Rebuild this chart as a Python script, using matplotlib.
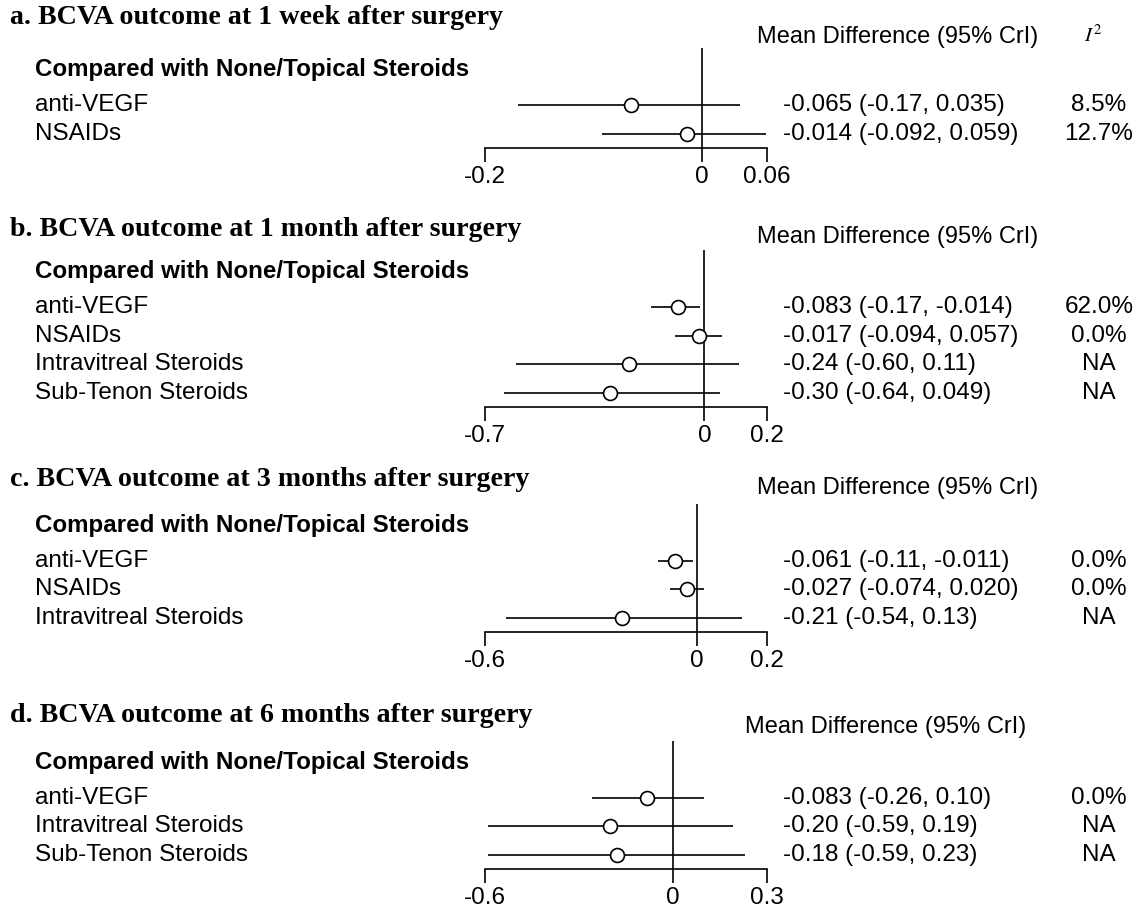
import matplotlib
matplotlib.use("Agg")
import matplotlib.pyplot as plt
import matplotlib.transforms as mtransforms

W, H, DPI = 1143, 909, 100

# ---------------- data ----------------
titles = [
    "a. BCVA outcome at 1 week after surgery",
    "b. BCVA outcome at 1 month after surgery",
    "c. BCVA outcome at 3 months after surgery",
    "d. BCVA outcome at 6 months after surgery",
]
group_label = "Compared with None/Topical Steroids"
header_md = "Mean Difference (95% CrI)"
header_i2 = r"$I^2$"

a_labels = ["anti-VEGF", "NSAIDs"]
a_mean = [-0.065, -0.014]
a_low = [-0.17, -0.092]
a_high = [0.035, 0.059]
a_est = ["-0.065 (-0.17, 0.035)", "-0.014 (-0.092, 0.059)"]
a_i2 = ["8.5%", "12.7%"]
a_ticks = [-0.2, 0, 0.06]
a_ticklabels = ["-0.2", "0", "0.06"]

b_labels = ["anti-VEGF", "NSAIDs", "Intravitreal Steroids", "Sub-Tenon Steroids"]
b_mean = [-0.083, -0.017, -0.24, -0.30]
b_low = [-0.17, -0.094, -0.60, -0.64]
b_high = [-0.014, 0.057, 0.11, 0.049]
b_est = ["-0.083 (-0.17, -0.014)", "-0.017 (-0.094, 0.057)",
         "-0.24 (-0.60, 0.11)", "-0.30 (-0.64, 0.049)"]
b_i2 = ["62.0%", "0.0%", "NA", "NA"]
b_ticks = [-0.7, 0, 0.2]
b_ticklabels = ["-0.7", "0", "0.2"]

c_labels = ["anti-VEGF", "NSAIDs", "Intravitreal Steroids"]
c_mean = [-0.061, -0.027, -0.21]
c_low = [-0.11, -0.074, -0.54]
c_high = [-0.011, 0.020, 0.13]
c_est = ["-0.061 (-0.11, -0.011)", "-0.027 (-0.074, 0.020)", "-0.21 (-0.54, 0.13)"]
c_i2 = ["0.0%", "0.0%", "NA"]
c_ticks = [-0.6, 0, 0.2]
c_ticklabels = ["-0.6", "0", "0.2"]

d_labels = ["anti-VEGF", "Intravitreal Steroids", "Sub-Tenon Steroids"]
d_mean = [-0.083, -0.20, -0.18]
d_low = [-0.26, -0.59, -0.59]
d_high = [0.10, 0.19, 0.23]
d_est = ["-0.083 (-0.26, 0.10)", "-0.20 (-0.59, 0.19)", "-0.18 (-0.59, 0.23)"]
d_i2 = ["0.0%", "NA", "NA"]
d_ticks = [-0.6, 0, 0.3]
d_ticklabels = ["-0.6", "0", "0.3"]

# ---------------- layout (pixels) ----------------
panels = [
    dict(labels=a_labels, mean=a_mean, low=a_low, high=a_high, est=a_est, i2=a_i2,
         ticks=a_ticks, ticklabels=a_ticklabels, axis_y=148, title_y=18, head_y=37,
         head_x=757, show_i2=True),
    dict(labels=b_labels, mean=b_mean, low=b_low, high=b_high, est=b_est, i2=b_i2,
         ticks=b_ticks, ticklabels=b_ticklabels, axis_y=407, title_y=229, head_y=237,
         head_x=757, show_i2=False),
    dict(labels=c_labels, mean=c_mean, low=c_low, high=c_high, est=c_est, i2=c_i2,
         ticks=c_ticks, ticklabels=c_ticklabels, axis_y=632, title_y=480, head_y=488,
         head_x=757, show_i2=False),
    dict(labels=d_labels, mean=d_mean, low=d_low, high=d_high, est=d_est, i2=d_i2,
         ticks=d_ticks, ticklabels=d_ticklabels, axis_y=869, title_y=715, head_y=727,
         head_x=745, show_i2=False),
]

SANS = ["Liberation Sans", "DejaVu Sans"]
SERIF = ["Liberation Serif", "DejaVu Serif"]
plt.rcParams["mathtext.fontset"] = "stix"

FS = 17.5
HEAD_FS = 17
BOLD_FS = 17.4
TITLE_FS = 20.2
ROW_H = 28.5
PLOT_L, PLOT_R = 485, 767
LABEL_X = 35
EST_X = 783
I2_X = 1099
LW = 1.2

fig = plt.figure(figsize=(W / DPI, H / DPI), dpi=DPI)
fig.patch.set_facecolor("white")

for idx, p in enumerate(panels):
    n = len(p["labels"])
    axis_y = p["axis_y"]
    top = axis_y - (n + 1.5) * ROW_H
    ax = fig.add_axes([PLOT_L / W, 1 - axis_y / H, (PLOT_R - PLOT_L) / W, (axis_y - top) / H])
    ax.set_facecolor("none")
    ax.set_xlim(p["ticks"][0], p["ticks"][-1])
    ax.set_ylim(n + 0.5, -1)
    rows = list(range(1, n + 1))
    ax.hlines(rows, p["low"], p["high"], color="black", lw=LW, zorder=2)
    ax.axvline(0, color="black", lw=LW, zorder=1)
    ax.plot(p["mean"], rows, "o", mfc="white", mec="black", ms=10, mew=LW, zorder=3,
            clip_on=False)
    for s in ["top", "left", "right"]:
        ax.spines[s].set_visible(False)
    ax.spines["bottom"].set_linewidth(LW)
    ax.set_xticks(p["ticks"])
    ax.set_xticklabels(p["ticklabels"], family=SANS, fontsize=FS)
    ax.tick_params(axis="x", direction="out", length=10, width=LW, pad=3)
    ax.set_yticks([])

    trans = mtransforms.blended_transform_factory(fig.transFigure, ax.transData)
    fig.text(LABEL_X / W, -0.25, group_label, transform=trans, family=SANS,
             fontsize=BOLD_FS, fontweight="bold", va="center", ha="left")
    for r, lab, est, i2 in zip(rows, p["labels"], p["est"], p["i2"]):
        fig.text(LABEL_X / W, r, lab, transform=trans, family=SANS, fontsize=FS,
                 va="center", ha="left")
        fig.text(EST_X / W, r, est, transform=trans, family=SANS, fontsize=FS,
                 va="center", ha="left")
        fig.text(I2_X / W, r, i2, transform=trans, family=SANS, fontsize=FS,
                 va="center", ha="center")

    fig.text(10 / W, 1 - p["title_y"] / H, titles[idx], family=SERIF,
             fontweight="bold", fontsize=TITLE_FS, va="center", ha="left")
    fig.text(p["head_x"] / W, 1 - p["head_y"] / H, header_md, family=SANS, fontsize=HEAD_FS,
             va="center", ha="left")
    if p["show_i2"]:
        fig.text(1093 / W, 1 - 35 / H, header_i2, fontsize=15, va="center", ha="center")

fig.savefig("out.png", dpi=DPI, facecolor="white")
